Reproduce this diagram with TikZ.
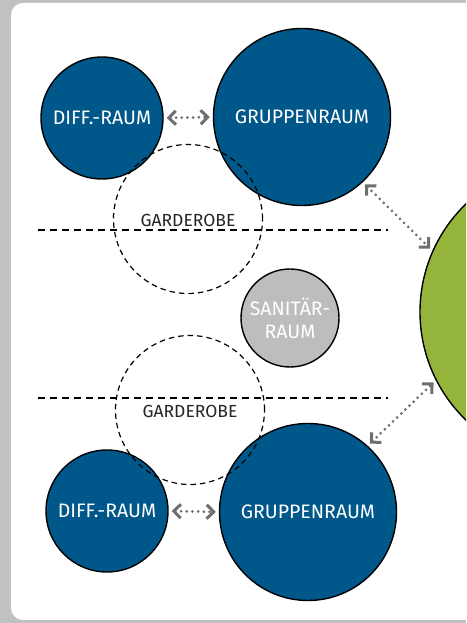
\documentclass[tikz,border=0pt]{standalone}
\usepackage{fontspec}
\newfontfamily\roomfont{Fira Sans}
\usetikzlibrary{arrows.meta, positioning}
\definecolor{roomblue}{HTML}{00578A}
\definecolor{roomgreen}{HTML}{94B43B}
\definecolor{roomgray}{HTML}{BCBDBF}
\definecolor{framegray}{HTML}{C0C1C3}
\definecolor{linkgray}{HTML}{6D6E70}
\tikzset{
  room/.style={circle, draw, line width=1.4pt, inner sep=0pt,
               align=center, text=white,
               font=\roomfont\fontsize{19.5}{23}\selectfont},
  grp/.style={room, fill=roomblue, minimum size=177pt},
  diff/.style={room, fill=roomblue, minimum size=122pt},
  san/.style={room, fill=roomgray, minimum size=98pt},
  hall/.style={room, fill=roomgreen, minimum size=300pt},
  gard/.style={circle, draw, line width=1.2pt, inner sep=0pt,
               dash pattern=on 5.5pt off 4pt, minimum size=149pt},
  gardtxt/.style={anchor=base, inner sep=0pt,
                  font=\roomfont\fontsize{17.5}{20}\selectfont, text=black!85},
  zone/.style={line width=1.3pt, dash pattern=on 7pt off 5pt},
  link/.style={linkgray, line width=3pt, line cap=round,
               dash pattern=on 0pt off 5.7pt,
               >={Straight Barb[length=7pt, width=14pt, line cap=butt, line join=miter]}, <->,
               shorten <=3pt, shorten >=3pt},
}

\begin{document}
\begin{tikzpicture}[x=1pt, y=1pt]

  \useasboundingbox (0,0) rectangle (466,623);
  \clip (0,0) rectangle (466,623);
  \fill[framegray] (0,0) rectangle (466,623);
  \fill[white, rounded corners=12pt] (11,3) rectangle (490,620);

  \node[hall] (hall) at (570,311) {};

  \node[diff] (diffa) at (102,505) {DIFF.-RAUM};
  \node[grp]  (grpa)  at (302,506) {GRUPPENRAUM};
  \node[san]  (san)   at (290,305) {SANITÄR-\\RAUM};
  \node[diff] (diffb) at (107,112) {DIFF.-RAUM};
  \node[grp]  (grpb)  at (308,111) {GRUPPENRAUM};

  \node[gard] (garda) at (188,404) {};
  \node[gard] (gardb) at (190,213) {};

  \draw[zone] (38,393) -- (388,393);
  \draw[zone] (38,225) -- (388,225);

  \node[gardtxt] (gardatxt) at (188,396) {GARDEROBE};
  \node[gardtxt] (gardbtxt) at (190,205) {GARDEROBE};

  \draw[link] (diffa.east) -- (grpa.west);
  \draw[link] (diffb.east) -- (grpb.west);
  \draw[link] (grpa.-47) -- (hall.156);
  \draw[link] (grpb.48) -- (hall.207);

\end{tikzpicture}
\end{document}
